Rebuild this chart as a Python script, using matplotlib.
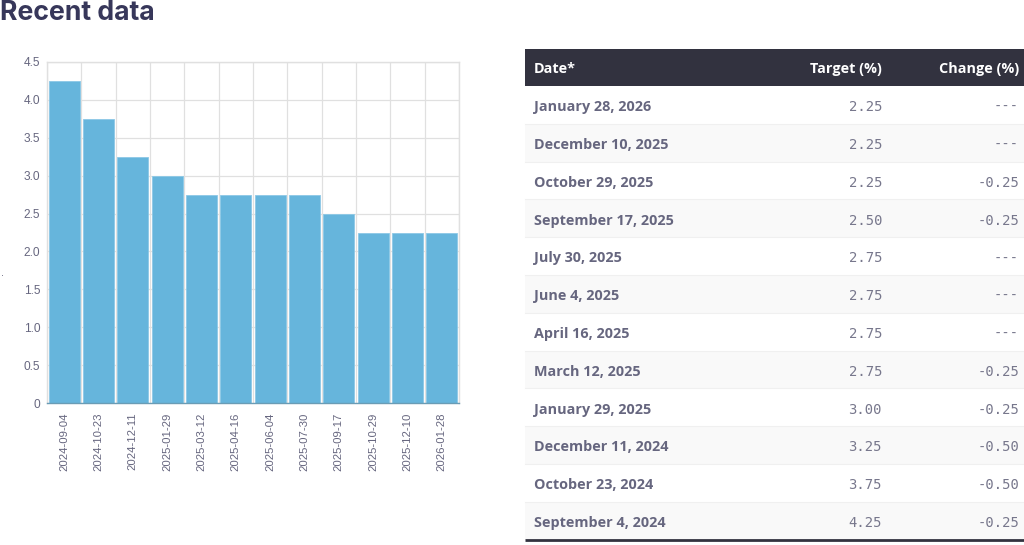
# Recent data: policy rate bars with the decisions table next to them

import matplotlib
matplotlib.use('Agg')
import matplotlib.pyplot as plt
from matplotlib.patches import Rectangle

# Chart data
bar_dates = ['2024-09-04', '2024-10-23', '2024-12-11', '2025-01-29', '2025-03-12', '2025-04-16',
             '2025-06-04', '2025-07-30', '2025-09-17', '2025-10-29', '2025-12-10', '2026-01-28']
bar_values = [4.25, 3.75, 3.25, 3.00, 2.75, 2.75, 2.75, 2.75, 2.50, 2.25, 2.25, 2.25]
y_ticks = [0, 0.5, 1.0, 1.5, 2.0, 2.5, 3.0, 3.5, 4.0, 4.5]
y_labels = ['0', '0.5', '1.0', '1.5', '2.0', '2.5', '3.0', '3.5', '4.0', '4.5']

# Table data
table_headers = ['Date*', 'Target (%)', 'Change (%)']
table_dates = ['January 28, 2026', 'December 10, 2025', 'October 29, 2025', 'September 17, 2025',
               'July 30, 2025', 'June 4, 2025', 'April 16, 2025', 'March 12, 2025',
               'January 29, 2025', 'December 11, 2024', 'October 23, 2024', 'September 4, 2024']
table_targets = ['2.25', '2.25', '2.25', '2.50', '2.75', '2.75', '2.75', '2.75', '3.00', '3.25', '3.75', '4.25']
table_changes = ['---', '---', '-0.25', '-0.25', '---', '---', '---', '-0.25', '-0.25', '-0.50', '-0.50', '-0.25']

W, H = 1024, 545
TEXT = '#66667f'
DARK = '#32323f'
GRID = '#e0e0e0'

fig = plt.figure(figsize=(W / 100, H / 100), dpi=100, facecolor='white')

# bar chart, placed in pixels
ax = fig.add_axes([47 / W, 1 - 403 / H, 412 / W, 341 / H])
positions = range(len(bar_values))
ax.bar(positions, bar_values, width=0.9, color='#66b5dc', edgecolor='#8cc8e6', linewidth=0.6, zorder=3)
ax.set_xlim(-0.5, len(bar_values) - 0.5)
ax.set_ylim(0, 4.5)
ax.set_yticks(y_ticks)
ax.set_yticklabels(y_labels)
ax.set_xticks(positions)
ax.set_xticklabels(bar_dates, rotation=90)
ax.set_xticks([p - 0.5 for p in positions] + [len(bar_values) - 0.5], minor=True)
ax.grid(True, axis='y', color=GRID, linewidth=0.9, zorder=0)
ax.grid(True, axis='x', which='minor', color=GRID, linewidth=0.9, zorder=0)
ax.tick_params(axis='both', which='both', length=0)
ax.tick_params(axis='x', which='major', pad=7, labelsize=8.2, labelcolor=TEXT)
ax.tick_params(axis='y', pad=5, labelsize=8.6, labelcolor=TEXT)
for label in ax.get_xticklabels() + ax.get_yticklabels():
    label.set_fontfamily('Liberation Sans')
for side in ['top', 'right', 'left']:
    ax.spines[side].set_color(GRID)
    ax.spines[side].set_linewidth(1.0)
ax.spines['bottom'].set_color('#6a9cb5')
ax.spines['bottom'].set_linewidth(1.0)
ax.spines['bottom'].set_zorder(4)

# overlay in pixel coordinates for heading and table
page = fig.add_axes([0, 0, 1, 1], facecolor='none')
page.set_xlim(0, W)
page.set_ylim(H, 0)
page.axis('off')

page.text(0, 13, 'Recent data', fontsize=19.2, fontweight='bold', family='Inter', color='#37375a', va='center')
page.text(1, 273, '.', fontsize=7, color=TEXT, va='center')

left, right = 525, 1024
head_top, head_bottom = 49, 86
row_h = 37.8
page.add_patch(Rectangle((left, head_top), right - left, head_bottom - head_top, color=DARK, lw=0))
head_y = (head_top + head_bottom) / 2 + 1.5
page.text(534, head_y, table_headers[0], color='white', fontsize=10.4, fontweight='bold', family='Open Sans', va='center')
page.text(882, head_y, table_headers[1], color='white', fontsize=10.4, fontweight='bold', family='Open Sans', va='center', ha='right')
page.text(1019, head_y, table_headers[2], color='white', fontsize=10.4, fontweight='bold', family='Open Sans', va='center', ha='right')

for i, (d, t, c) in enumerate(zip(table_dates, table_targets, table_changes)):
    top = head_bottom + i * row_h
    if i % 2 == 1:
        page.add_patch(Rectangle((left, top), right - left, row_h, color='#f9f9f9', lw=0))
    if i > 0:
        page.plot([left, right], [top, top], color='#f0f0f0', lw=0.8)
    mid = top + row_h / 2 + 2.3
    page.text(534, mid, d, color=TEXT, fontsize=10.35, fontweight='bold', family='Open Sans', va='center')
    page.text(882, mid, t, color='#77778c', fontsize=10, family='DejaVu Sans Mono', va='center', ha='right')
    page.text(1019, mid, c, color='#77778c', fontsize=10, family='DejaVu Sans Mono', va='center', ha='right')

end = head_bottom + len(table_dates) * row_h
page.plot([left, right], [end, end], color=DARK, lw=2.0, solid_capstyle='butt')

fig.savefig('out.png', dpi=100)
